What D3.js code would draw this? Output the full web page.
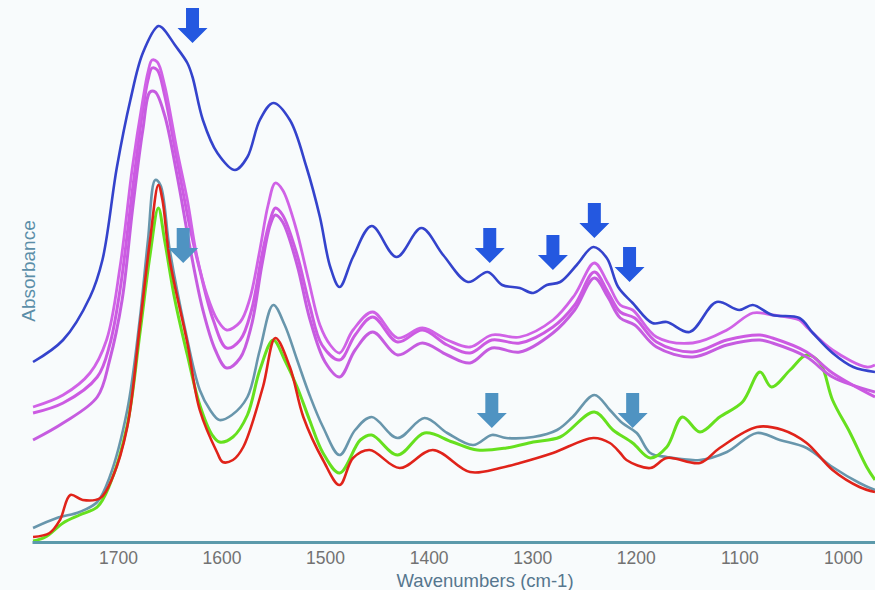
<!DOCTYPE html>
<meta charset="utf-8">
<script src="https://d3js.org/d3.v7.min.js"></script>
<style>
  body { margin: 0; background: #f8fbfc; }
</style>
<svg width="875" height="590"></svg>

<script>

// absorbance spectra, [wavenumber (cm-1), absorbance (arb. units, offset)]
const blue = [[1782,0.90],[1753,1.01],[1727,1.225],[1715,1.41],[1701,1.875],[1688,2.21],[1676,2.445],[1661,2.58],[1657,2.57],[1645,2.485],[1633,2.395],[1628,2.325],[1618,2.11],[1604,1.945],[1587,1.86],[1575,1.925],[1563,2.11],[1550,2.195],[1534,2.11],[1518,1.875],[1505,1.625],[1495,1.375],[1486,1.275],[1473,1.425],[1455,1.58],[1431,1.425],[1407,1.57],[1386,1.435],[1362,1.30],[1343,1.35],[1329,1.285],[1312,1.27],[1299,1.245],[1286,1.285],[1273,1.30],[1257,1.385],[1241,1.475],[1228,1.42],[1217,1.275],[1203,1.195],[1184,1.095],[1170,1.10],[1148,1.05],[1122,1.20],[1100,1.16],[1087,1.185],[1068,1.135],[1042,1.12],[1029,1.045],[1010,0.945],[990,0.875],[969,0.85]];

const magenta1 = [[1782,0.675],[1753,0.735],[1727,0.845],[1711,1.01],[1698,1.375],[1686,1.875],[1676,2.21],[1671,2.35],[1667,2.41],[1662,2.40],[1655,2.285],[1643,1.96],[1633,1.71],[1624,1.435],[1614,1.235],[1604,1.11],[1595,1.06],[1582,1.10],[1573,1.21],[1563,1.46],[1555,1.685],[1548,1.795],[1541,1.76],[1529,1.585],[1516,1.31],[1505,1.085],[1495,0.985],[1486,0.945],[1473,1.06],[1454,1.15],[1430,1.02],[1406,1.07],[1382,1.01],[1360,0.975],[1339,1.035],[1312,1.025],[1280,1.11],[1259,1.235],[1240,1.395],[1227,1.295],[1215,1.185],[1203,1.16],[1180,1.025],[1145,0.995],[1112,1.06],[1087,1.145],[1068,1.135],[1042,1.11],[1035,1.075],[1010,0.96],[977,0.875],[969,0.885]];

const magenta2 = [[1782,0.645],[1753,0.695],[1720,0.825],[1708,0.985],[1698,1.26],[1686,1.76],[1676,2.16],[1671,2.31],[1667,2.37],[1662,2.36],[1655,2.235],[1643,1.91],[1630,1.56],[1621,1.36],[1608,1.11],[1595,0.97],[1582,1.01],[1571,1.16],[1561,1.435],[1553,1.61],[1548,1.67],[1541,1.635],[1527,1.435],[1515,1.185],[1503,0.985],[1486,0.91],[1471,1.035],[1454,1.125],[1430,1.00],[1406,1.06],[1382,0.985],[1360,0.945],[1339,1.01],[1312,0.995],[1280,1.075],[1259,1.185],[1240,1.35],[1227,1.25],[1215,1.15],[1201,1.12],[1180,1.00],[1145,0.95],[1112,1.01],[1080,1.035],[1068,1.02],[1035,0.95],[1010,0.845],[969,0.725]];

const magenta3 = [[1782,0.51],[1753,0.595],[1720,0.725],[1708,0.91],[1696,1.21],[1686,1.66],[1676,2.06],[1669,2.25],[1664,2.25],[1655,2.135],[1643,1.835],[1630,1.46],[1618,1.16],[1606,0.96],[1595,0.87],[1582,0.92],[1571,1.085],[1561,1.385],[1553,1.585],[1548,1.635],[1541,1.60],[1527,1.385],[1515,1.12],[1500,0.90],[1486,0.825],[1471,0.96],[1454,1.05],[1430,0.935],[1406,0.995],[1382,0.935],[1360,0.895],[1339,0.97],[1312,0.95],[1280,1.045],[1259,1.16],[1240,1.32],[1227,1.225],[1215,1.12],[1201,1.085],[1180,0.975],[1145,0.925],[1112,0.985],[1080,1.01],[1068,0.995],[1035,0.925],[1010,0.825],[969,0.75]];

const teal = [[1782,0.07],[1759,0.12],[1737,0.15],[1720,0.20],[1708,0.325],[1691,0.66],[1679,1.11],[1671,1.51],[1664,1.81],[1659,1.785],[1650,1.46],[1635,1.06],[1621,0.76],[1611,0.66],[1602,0.61],[1590,0.635],[1575,0.725],[1563,0.96],[1550,1.185],[1539,1.085],[1527,0.91],[1515,0.735],[1502,0.575],[1486,0.435],[1471,0.56],[1455,0.625],[1430,0.52],[1404,0.62],[1382,0.545],[1357,0.485],[1339,0.535],[1325,0.52],[1299,0.525],[1276,0.56],[1261,0.625],[1240,0.735],[1225,0.66],[1213,0.595],[1199,0.545],[1186,0.445],[1170,0.425],[1138,0.41],[1112,0.45],[1083,0.545],[1061,0.51],[1035,0.47],[1010,0.375],[984,0.295],[969,0.26]];

const green = [[1782,0.005],[1770,0.025],[1753,0.095],[1737,0.135],[1720,0.175],[1708,0.285],[1691,0.585],[1679,1.035],[1669,1.435],[1661,1.67],[1655,1.51],[1645,1.21],[1633,0.935],[1621,0.685],[1609,0.535],[1602,0.50],[1589,0.525],[1575,0.635],[1563,0.86],[1550,1.01],[1539,0.91],[1527,0.775],[1515,0.61],[1502,0.445],[1486,0.345],[1466,0.51],[1455,0.535],[1430,0.435],[1404,0.545],[1377,0.50],[1353,0.46],[1325,0.47],[1299,0.50],[1273,0.525],[1240,0.65],[1222,0.56],[1203,0.495],[1186,0.42],[1170,0.475],[1155,0.625],[1138,0.55],[1119,0.625],[1097,0.70],[1080,0.85],[1069,0.775],[1051,0.86],[1035,0.935],[1022,0.895],[1010,0.71],[993,0.545],[977,0.375],[969,0.31]];

const red = [[1782,0.025],[1766,0.045],[1756,0.11],[1746,0.235],[1734,0.21],[1717,0.22],[1705,0.325],[1691,0.575],[1679,1.075],[1669,1.51],[1661,1.785],[1657,1.71],[1650,1.41],[1633,0.995],[1621,0.66],[1604,0.445],[1599,0.40],[1589,0.41],[1579,0.475],[1560,0.775],[1548,1.02],[1534,0.875],[1521,0.625],[1502,0.41],[1486,0.285],[1473,0.42],[1457,0.46],[1428,0.37],[1396,0.46],[1360,0.35],[1331,0.37],[1312,0.395],[1280,0.445],[1241,0.52],[1225,0.495],[1215,0.445],[1209,0.41],[1186,0.37],[1170,0.42],[1138,0.395],[1119,0.47],[1083,0.575],[1058,0.56],[1035,0.495],[1010,0.36],[984,0.275],[969,0.25]];

// arrow tips [wavenumber, absorbance]
const blueArrows = [[1628,2.495],[1341,1.395],[1280,1.36],[1240,1.52],[1206,1.30]];
const tealArrows = [[1637,1.395],[1339,0.57],[1203,0.57]];

const tickLabels = [1700, 1600, 1500, 1400, 1300, 1200, 1100, 1000];

const svg = d3.select("svg");

// wavenumber axis runs high -> low
var x = d3.scaleLinear()
  .domain([1783, 969])
  .range([32, 875]);

var y = d3.scaleLinear()
  .domain([0, 2.71])
  .range([542, 0]);

var line = d3.line()
  .x(function(d) { return x(d[0]); })
  .y(function(d) { return y(d[1]); })
  .curve(d3.curveCatmullRom.alpha(0.5));

// draw order: lower group, then magenta, then blue on top
var series = [
  {data: teal, color: "#6896ac", width: 2.6},
  {data: green, color: "#66e01e", width: 3},
  {data: red, color: "#e0231a", width: 2.6},
  {data: magenta3, color: "#c65ce0", width: 3},
  {data: magenta2, color: "#cc5ae2", width: 3},
  {data: magenta1, color: "#d062e6", width: 2.8},
  {data: blue, color: "#3443cc", width: 2.6}
];

svg.append("g")
  .selectAll("path")
  .data(series)
  .enter()
  .append("path")
    .attr("d", function(d) { return line(d.data); })
    .attr("fill", "none")
    .attr("stroke", function(d) { return d.color; })
    .attr("stroke-width", function(d) { return d.width; })
    .attr("stroke-linejoin", "round");

// x axis
var xAxis = svg.append("g")
  .attr("transform", "translate(0,542)")
  .call(d3.axisBottom(x).tickValues(tickLabels).tickSize(0).tickPadding(10).tickFormat(d3.format("d")));

xAxis.select(".domain")
  .attr("stroke", "#5c9aab")
  .attr("stroke-width", 3);

xAxis.selectAll("text")
  .attr("fill", "#727272")
  .style("font-family", "'Liberation Sans', Arial, sans-serif")
  .style("font-size", "17.5px");

svg.append("text")
  .attr("x", 485)
  .attr("y", 587)
  .attr("text-anchor", "middle")
  .attr("fill", "#55768e")
  .style("font-family", "'Liberation Sans', Arial, sans-serif")
  .style("font-size", "18.5px")
  .text("Wavenumbers (cm-1)");

svg.append("text")
  .attr("transform", "translate(35,271) rotate(-90)")
  .attr("text-anchor", "middle")
  .attr("fill", "#5b8ea8")
  .style("font-family", "'Liberation Sans', Arial, sans-serif")
  .style("font-size", "19px")
  .text("Absorbance");

// arrows: tip at the data point, pointing down
var arrowPath = "M0,0 L-15,-15 L-6.5,-15 L-6.5,-35 L6.5,-35 L6.5,-15 L15,-15 Z";

svg.append("g")
  .selectAll("path")
  .data(blueArrows)
  .enter()
  .append("path")
    .attr("d", arrowPath)
    .attr("transform", function(d) { return "translate(" + x(d[0]) + "," + y(d[1]) + ")"; })
    .attr("fill", "#2458e0");

svg.append("g")
  .selectAll("path")
  .data(tealArrows)
  .enter()
  .append("path")
    .attr("d", arrowPath)
    .attr("transform", function(d) { return "translate(" + x(d[0]) + "," + y(d[1]) + ")"; })
    .attr("fill", "#4f93c2");

</script>
